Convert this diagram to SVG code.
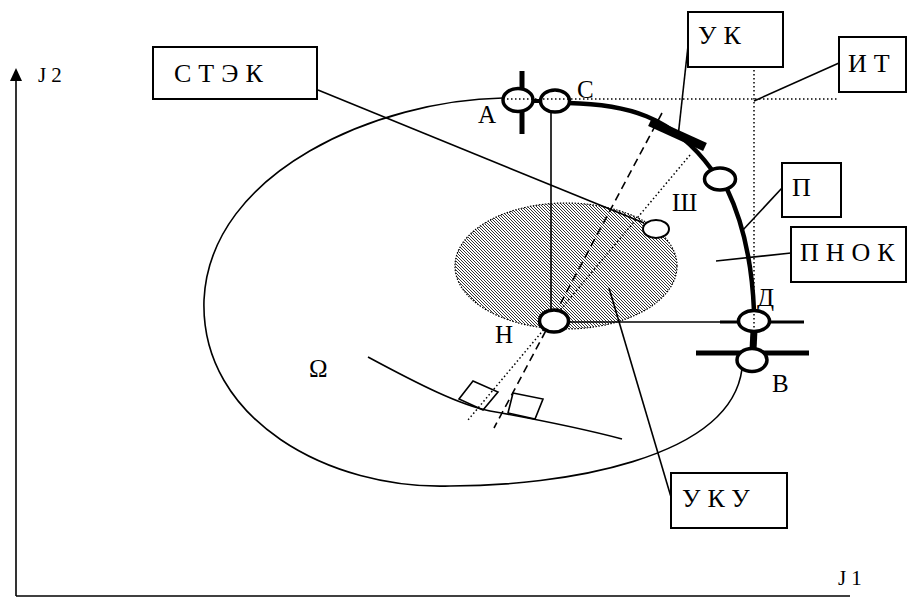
<svg xmlns="http://www.w3.org/2000/svg" width="916" height="598" viewBox="0 0 916 598">
<defs>
<pattern id="hatch" patternUnits="userSpaceOnUse" width="3" height="3">
<rect width="3" height="3" fill="#fff"/>
<path d="M-1,-1 L4,4 M-1,2 L1,4 M2,-1 L4,1" stroke="#333" stroke-width="1"/>
</pattern>
<style>
.thin{fill:none;stroke:#000;stroke-width:1.6}
.thick{fill:none;stroke:#000;stroke-width:4.5}
.dot{fill:none;stroke:#000;stroke-width:1.5;stroke-dasharray:1.5 2.5}
.dash{fill:none;stroke:#000;stroke-width:1.6;stroke-dasharray:8 5}
.pt{fill:#fff;stroke:#000;stroke-width:3.5}
.box{fill:#fff;stroke:#000;stroke-width:2}
text{font-family:'Liberation Serif','Times New Roman',Tinos,'DejaVu Serif',serif;fill:#000}
.bt{font-size:26px;letter-spacing:7px}
.lb{font-size:25px}
.ax{font-size:21px;letter-spacing:5px}
</style>
</defs>
<rect width="916" height="598" fill="#fff"/>

<g id="axes">
<line class="thin" x1="16" y1="80" x2="16" y2="596"/>
<line class="thin" x1="16" y1="596" x2="850" y2="596"/>
<polygon points="16,68 10,81 22,81" fill="#000"/>
<text class="ax" x="38" y="82" font-family="Liberation Serif, serif">J2</text>
<text class="ax" x="838" y="585" font-family="Liberation Serif, serif">J1</text>
</g>

<g id="region">
<path class="thin" d="M 503 98 C 380 100, 210 170, 204 300 C 200 420, 330 490, 450 486 C 560 486, 730 460, 742 369"/>
</g>

<g id="uku-area">
<ellipse cx="566" cy="266" rx="111" ry="63" fill="url(#hatch)" stroke="#000" stroke-width="1.2" stroke-dasharray="1.5 1.5"/>
</g>

<g id="connectors">
<line class="thin" x1="551" y1="112" x2="551" y2="310"/>
<line class="thin" x1="569" y1="322" x2="722" y2="322"/>
<line x1="720" y1="322" x2="740" y2="322" stroke="#000" stroke-width="3"/>
<line x1="769" y1="322" x2="804" y2="322" stroke="#000" stroke-width="3"/>
<line x1="696" y1="353" x2="809" y2="353" stroke="#000" stroke-width="5"/>
<line x1="522" y1="71" x2="522" y2="134" stroke="#000" stroke-width="5"/>
<line x1="531" y1="101" x2="542" y2="101" stroke="#000" stroke-width="4"/>
<line x1="754" y1="330" x2="753" y2="350" stroke="#000" stroke-width="7"/>
<path class="thick" d="M 568 103 C 625 104, 672 115, 712 170" stroke-width="4"/>
<line x1="650" y1="122" x2="705" y2="147" stroke="#000" stroke-width="9"/>
<path class="thick" d="M 727 189 C 742 220, 752 262, 754 311"/>
<line class="dash" x1="662" y1="113" x2="494" y2="428"/>
<line class="dot" x1="690" y1="155" x2="468" y2="420"/>
<line class="thin" x1="318" y1="90" x2="644" y2="223"/>
<line class="thin" x1="689" y1="37" x2="678" y2="137"/>
<line class="thin" x1="839" y1="63" x2="754" y2="101"/>
<line class="thin" x1="782" y1="188" x2="742" y2="231"/>
<line class="thin" x1="791" y1="253" x2="716" y2="261"/>
<line class="thin" x1="609" y1="288" x2="671" y2="497"/>
<path class="thin" d="M 368 357 C 420 385, 460 405, 490 411 C 540 420, 580 428, 622 439"/>
<polygon class="thin" points="473,381 498,392 483,410 459,399"/>
<polygon class="thin" points="513,393 543,399 535,419 508,413"/>
</g>

<g id="A"><ellipse class="pt" cx="518" cy="100" rx="15" ry="11.5"/><text class="lb" x="478" y="123" font-family="Liberation Serif, serif">А</text></g>
<g id="C"><ellipse class="pt" cx="555" cy="101" rx="14.5" ry="11"/><text class="lb" x="577" y="98" font-family="Liberation Serif, serif">С</text></g>
<g id="P-point"><ellipse class="pt" cx="720" cy="179" rx="15.5" ry="11"/></g>
<g id="Sh"><ellipse cx="656" cy="229" rx="13" ry="9" fill="#fff" stroke="#000" stroke-width="2"/><text class="lb" x="672" y="211" font-family="Liberation Serif, serif">Ш</text></g>
<g id="N"><ellipse class="pt" cx="554" cy="321" rx="14.5" ry="11" stroke-width="4"/><text class="lb" x="495" y="343" font-family="Liberation Serif, serif">Н</text></g>
<g id="D"><ellipse class="pt" cx="754" cy="321" rx="15.5" ry="10.5"/><text class="lb" x="757" y="306" font-family="Liberation Serif, serif">Д</text></g>
<g id="B"><ellipse class="pt" cx="752" cy="360" rx="15" ry="11.5"/><text class="lb" x="772" y="392" font-family="Liberation Serif, serif">В</text></g>
<g id="Omega"><text class="lb" x="309" y="377" font-family="Liberation Serif, serif">Ω</text></g>

<g id="guides">
<line class="dot" x1="507" y1="99" x2="837" y2="99"/>
<line class="dot" x1="754" y1="38" x2="754" y2="331"/>
</g>

<g id="STEK"><rect class="box" x="153" y="47" width="164" height="52"/><text class="bt" x="174" y="82" font-family="Liberation Serif, serif">СТЭК</text></g>
<g id="UK"><rect class="box" x="688" y="12" width="95" height="55"/><text class="bt" x="698" y="44" font-family="Liberation Serif, serif">УК</text></g>
<g id="IT"><rect class="box" x="839" y="37" width="67" height="55"/><text class="bt" x="848" y="72" font-family="Liberation Serif, serif">ИТ</text></g>
<g id="P"><rect class="box" x="782" y="163" width="59" height="54"/><text class="bt" x="792" y="196" font-family="Liberation Serif, serif">П</text></g>
<g id="PNOK"><rect class="box" x="791" y="227" width="115" height="55"/><text class="bt" x="800" y="261" font-family="Liberation Serif, serif">ПНОК</text></g>
<g id="UKU"><rect class="box" x="671" y="473" width="116" height="55"/><text class="bt" x="682" y="507" font-family="Liberation Serif, serif">УКУ</text></g>
</svg>
